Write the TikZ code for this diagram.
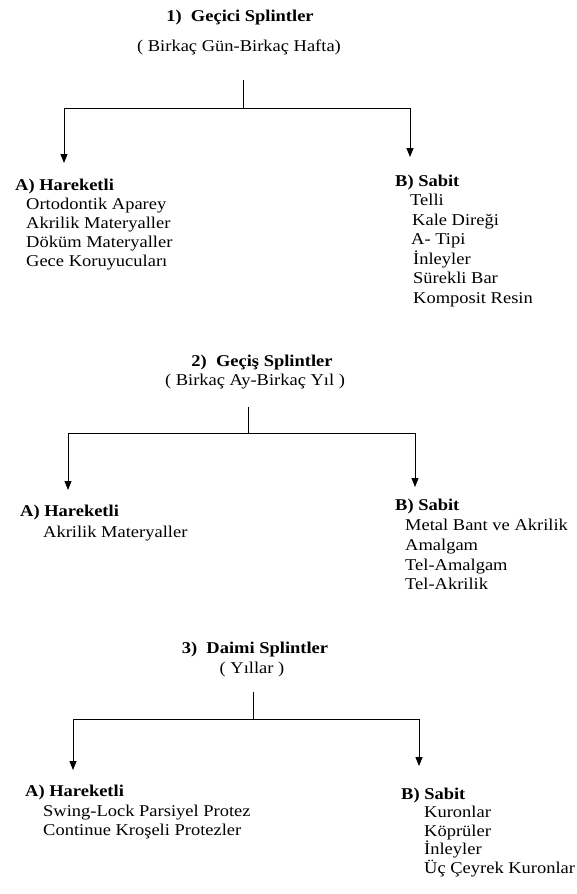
\documentclass[tikz,border=0pt]{standalone}
\usepackage{fontspec}
\setmainfont[FakeStretch=1.12]{Liberation Serif}
\usetikzlibrary{arrows.meta}
\tikzset{
  txt/.style={inner sep=0pt, anchor=base west, font=\fontsize{16.5}{19.5}\selectfont},
  hd/.style={inner sep=0pt, anchor=base west, font=\fontsize{16.5}{19.5}\selectfont\bfseries},
  ttl/.style={inner sep=0pt, anchor=base, font=\fontsize{16.5}{19.5}\selectfont\bfseries},
  sub/.style={inner sep=0pt, anchor=base, font=\fontsize{16.5}{19.5}\selectfont},
  ln/.style={line width=0.8pt, black},
  arr/.style={line width=0.8pt, black, -{Triangle[length=9pt,width=7pt]}}
}
\begin{document}
\begin{tikzpicture}[x=1pt,y=-1pt]
\useasboundingbox[fill=white] (0,0) rectangle (577,894);

% ---------- Section 1 ----------
\node[ttl] (t1) at (240,21) {1)\ \ Geçici Splintler};
\node[sub] (s1) at (239,51) {( Birkaç Gün-Birkaç Hafta)};
\coordinate (s1top) at (243,80);
\coordinate (s1j) at (243,108);
\coordinate (s1L) at (64,163);
\coordinate (s1R) at (410,157);
\draw[ln] (s1top) -- (s1j);
\draw[arr] (s1j) -| (s1L);
\draw[arr] (s1j) -| (s1R);

\node[hd] (a1) at (15,190) {A) Hareketli};
\node[txt] (a1i1) at (26,209) {Ortodontik Aparey};
\node[txt] (a1i2) at (26,228) {Akrilik Materyaller};
\node[txt] (a1i3) at (26,247) {Döküm Materyaller};
\node[txt] (a1i4) at (26,266) {Gece Koruyucuları};

\node[hd] (b1) at (395,186) {B) Sabit};
\node[txt] (b1i1) at (410,205) {Telli};
\node[txt] (b1i2) at (412,225) {Kale Direği};
\node[txt] (b1i3) at (411,244) {A- Tipi};
\node[txt] (b1i4) at (413,264) {İnleyler};
\node[txt] (b1i5) at (413,283) {Sürekli Bar};
\node[txt] (b1i6) at (413,303) {Komposit Resin};

% ---------- Section 2 ----------
\node[ttl] (t2) at (262,366) {2)\ \ Geçiş Splintler};
\node[sub] (s2) at (255,385) {( Birkaç Ay-Birkaç Yıl )};
\coordinate (s2top) at (248,407);
\coordinate (s2j) at (248,433);
\coordinate (s2L) at (68,490);
\coordinate (s2R) at (415,487);
\draw[ln] (s2top) -- (s2j);
\draw[arr] (s2j) -| (s2L);
\draw[arr] (s2j) -| (s2R);

\node[hd] (a2) at (20,516) {A) Hareketli};
\node[txt] (a2i1) at (43,537) {Akrilik Materyaller};

\node[hd] (b2) at (395,510) {B) Sabit};
\node[txt] (b2i1) at (405,530) {Metal Bant ve Akrilik};
\node[txt] (b2i2) at (405,550) {Amalgam};
\node[txt] (b2i3) at (405,570) {Tel-Amalgam};
\node[txt] (b2i4) at (405,589) {Tel-Akrilik};

% ---------- Section 3 ----------
\node[ttl] (t3) at (255,653) {3)\ \ Daimi Splintler};
\node[sub] (s3) at (252,673) {( Yıllar )};
\coordinate (s3top) at (253,692);
\coordinate (s3j) at (253,719);
\coordinate (s3L) at (73,770);
\coordinate (s3R) at (419,766);
\draw[ln] (s3top) -- (s3j);
\draw[arr] (s3j) -| (s3L);
\draw[arr] (s3j) -| (s3R);

\node[hd] (a3) at (25,796) {A) Hareketli};
\node[txt] (a3i1) at (43,816) {Swing-Lock Parsiyel Protez};
\node[txt] (a3i2) at (43,835) {Continue Kroşeli Protezler};

\node[hd] (b3) at (401,799) {B) Sabit};
\node[txt] (b3i1) at (424,817) {Kuronlar};
\node[txt] (b3i2) at (424,836) {Köprüler};
\node[txt] (b3i3) at (424,854) {İnleyler};
\node[txt] (b3i4) at (424,873) {Üç Çeyrek Kuronlar};
\end{tikzpicture}
\end{document}
